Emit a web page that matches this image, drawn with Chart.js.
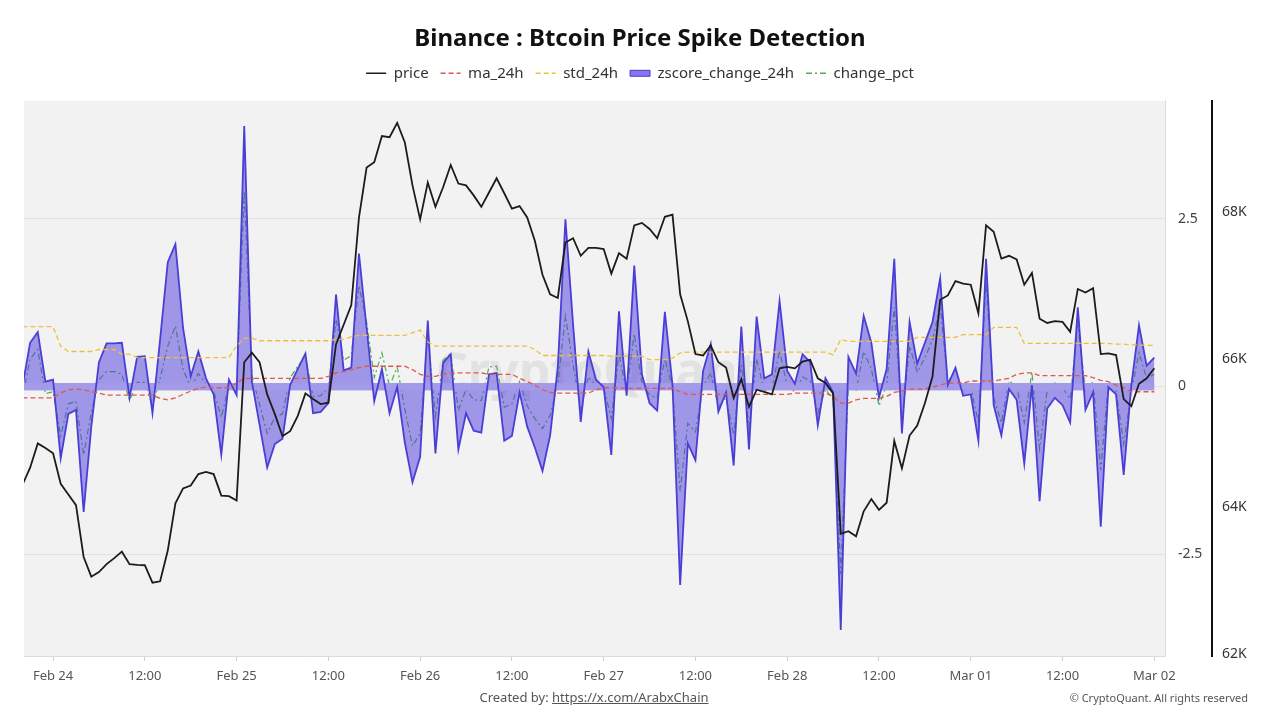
<!DOCTYPE html>
<html>
<head>
<meta charset="utf-8">
<script src="https://cdn.jsdelivr.net/npm/chart.js@4.4.1/dist/chart.umd.min.js"></script>
<style>
html,body{margin:0;padding:0;background:#fff;width:1280px;height:720px;overflow:hidden;font-family:'Noto Sans',sans-serif}
#wrap{position:relative;width:1280px;height:720px}
canvas{display:block}
#credit{position:absolute;left:0;width:1188px;top:688px;text-align:center;font-size:13px;color:#555;line-height:18px}
#credit a{color:#555;text-decoration:underline}
#rights{position:absolute;right:32px;top:690px;font-size:11px;color:#555;line-height:16px}
</style>
</head>
<body>
<div id="wrap">
<canvas id="c" width="1280" height="720"></canvas>
<div id="credit">Created by: <a>https://x.com/ArabxChain</a></div>
<div id="rights">© CryptoQuant. All rights reserved</div>
</div>
<script>
// hours relative to Feb 24 00:00
const hours = [-4,-3,-2,-1,0,1,2,3,4,5,6,7,8,9,10,11,12,13,14,15,16,17,18,19,20,21,22,23,24,25,26,27,28,29,30,31,32,33,34,35,36,37,38,39,40,41,42,43,44,45,46,47,48,49,50,51,52,53,54,55,56,57,58,59,60,61,62,63,64,65,66,67,68,69,70,71,72,73,74,75,76,77,78,79,80,81,82,83,84,85,86,87,88,89,90,91,92,93,94,95,96,97,98,99,100,101,102,103,104,105,106,107,108,109,110,111,112,113,114,115,116,117,118,119,120,121,122,123,124,125,126,127,128,129,130,131,132,133,134,135,136,137,138,139,140,141,142,143,144];

const price = [
64295,64527,64857,64794,64721,64309,64164,64018,63316,63049,
63112,63219,63301,63388,63219,63209,63204,62967,62986,63403,
64043,64246,64285,64440,64469,64440,64149,64140,64082,65957,
66088,65957,65521,65254,64954,65022,65230,65535,65458,65390,
65409,66199,66466,66732,67920,68598,68671,69024,69010,69204,
68937,68356,67895,68394,68065,68331,68632,68380,68356,68220,
68065,68259,68453,68249,68041,68075,67920,67605,67144,66878,
66829,67580,67639,67401,67508,67508,67493,67159,67435,67362,
67813,67847,67765,67639,67930,67959,66878,66515,66068,66049,
66185,65957,65884,65472,65729,65351,65584,65555,65521,65875,
65894,65875,65967,65991,65739,65676,65535,63631,63665,63597,
63936,64101,63956,64052,64890,64518,64963,65099,65400,65763,
66805,66863,67057,67023,67009,66621,67813,67726,67362,67401,
67352,67009,67169,66548,66490,66515,66505,66369,66951,66902,
66960,66068,66078,66054,65458,65361,65666,65739,65875];

const ma24 = [
-0.17,-0.17,-0.17,-0.17,-0.17,-0.10,-0.05,-0.04,-0.05,-0.08,
-0.10,-0.13,-0.13,-0.13,-0.13,-0.13,-0.13,-0.13,-0.18,-0.20,
-0.17,-0.12,-0.07,-0.03,-0.01,-0.02,-0.02,-0.02,0.05,0.12,
0.12,0.12,0.12,0.12,0.12,0.12,0.12,0.12,0.12,0.12,
0.15,0.20,0.22,0.25,0.28,0.30,0.30,0.30,0.30,0.30,
0.30,0.25,0.18,0.15,0.15,0.18,0.20,0.20,0.20,0.20,
0.20,0.18,0.18,0.18,0.18,0.12,0.07,0.02,-0.05,-0.09,
-0.10,-0.10,-0.10,-0.10,-0.10,-0.05,-0.02,-0.02,-0.02,-0.03,
-0.03,-0.03,-0.03,-0.03,-0.03,-0.03,-0.08,-0.12,-0.12,-0.12,
-0.12,-0.12,-0.12,-0.12,-0.12,-0.12,-0.12,-0.12,-0.12,-0.12,
-0.12,-0.10,-0.10,-0.10,-0.10,-0.10,-0.15,-0.25,-0.25,-0.20,
-0.18,-0.18,-0.18,-0.15,-0.09,-0.07,-0.04,-0.04,-0.04,-0.01,
0.02,0.05,0.05,0.05,0.08,0.08,0.08,0.08,0.10,0.12,
0.18,0.20,0.20,0.16,0.16,0.16,0.16,0.16,0.16,0.16,
0.13,0.09,0.07,0.02,-0.02,-0.08,-0.08,-0.08,-0.08];

const std24 = [
0.89,0.89,0.89,0.89,0.89,0.60,0.52,0.52,0.52,0.52,
0.55,0.55,0.55,0.48,0.48,0.43,0.43,0.43,0.43,0.43,
0.43,0.43,0.43,0.43,0.43,0.43,0.43,0.43,0.60,0.72,
0.72,0.68,0.68,0.68,0.68,0.68,0.68,0.68,0.68,0.68,
0.68,0.70,0.70,0.74,0.76,0.76,0.76,0.76,0.76,0.76,
0.76,0.80,0.84,0.66,0.60,0.60,0.60,0.60,0.60,0.60,
0.60,0.60,0.60,0.60,0.60,0.60,0.60,0.55,0.46,0.46,
0.46,0.46,0.46,0.46,0.46,0.46,0.46,0.45,0.45,0.45,
0.45,0.45,0.40,0.40,0.40,0.42,0.50,0.51,0.51,0.51,
0.51,0.51,0.51,0.51,0.51,0.51,0.51,0.51,0.51,0.51,
0.51,0.51,0.51,0.51,0.51,0.51,0.47,0.70,0.67,0.67,
0.67,0.67,0.67,0.67,0.67,0.67,0.67,0.73,0.73,0.73,
0.73,0.73,0.73,0.77,0.77,0.77,0.77,0.88,0.88,0.88,
0.88,0.64,0.64,0.64,0.64,0.64,0.64,0.64,0.64,0.64,
0.64,0.64,0.64,0.63,0.63,0.62,0.62,0.61,0.61];

const zscore = [
0.00,0.65,0.81,0.07,0.10,-1.07,-0.41,-0.35,-1.87,-0.60,
0.36,0.64,0.64,0.65,-0.17,0.44,0.45,-0.40,0.70,1.85,
2.12,0.87,0.15,0.52,0.12,-0.12,-1.02,0.10,-0.13,3.88,
0.07,-0.57,-1.21,-0.86,-0.78,0.02,0.26,0.49,-0.40,-0.38,
-0.25,1.37,0.24,0.28,1.98,0.87,-0.22,0.26,-0.40,-0.01,
-0.84,-1.43,-1.05,0.98,-1.00,0.35,0.48,-0.94,-0.40,-0.66,
-0.69,0.18,0.20,-0.81,-0.74,-0.09,-0.60,-0.91,-1.26,-0.73,
0.28,2.49,0.92,-0.53,0.52,0.10,-0.01,-1.02,1.12,-0.14,
1.80,0.18,-0.25,-0.36,1.11,0.02,-2.96,-0.85,-1.10,0.23,
0.63,-0.38,-0.09,-1.18,0.89,-0.94,1.04,0.12,0.18,1.27,
0.23,0.04,0.48,0.36,-0.58,0.12,-0.09,-3.63,0.44,0.19,
1.05,0.65,-0.17,0.26,1.90,-0.70,0.96,0.34,0.65,0.96,
1.61,0.02,0.28,-0.14,-0.12,-0.81,1.90,-0.28,-0.73,-0.04,
-0.20,-1.15,0.02,-1.71,-0.33,-0.17,-0.28,-0.54,1.18,-0.35,
-0.09,-2.09,-0.01,-0.12,-1.32,0.02,0.91,0.31,0.43];

const changePct = [
-0.17,0.41,0.55,-0.11,-0.08,-0.74,-0.26,-0.22,-1.02,-0.39,
0.10,0.22,0.22,0.18,-0.21,0.06,0.06,-0.30,0.12,0.60,
0.90,0.25,-0.01,0.19,0.04,-0.07,-0.46,0.02,-0.03,2.91,
0.17,-0.27,-0.70,-0.46,-0.41,0.13,0.30,0.45,-0.15,-0.14,
-0.02,1.00,0.39,0.46,1.50,0.96,0.13,0.50,0.00,0.29,
-0.34,-0.89,-0.70,0.80,-0.45,0.39,0.49,-0.36,-0.04,-0.20,
-0.21,0.29,0.30,-0.31,-0.26,0.07,-0.29,-0.48,-0.63,-0.43,
0.03,1.05,0.32,-0.34,0.14,0.00,-0.02,-0.48,0.48,-0.09,
0.78,0.05,-0.13,-0.17,0.41,-0.02,-1.56,-0.55,-0.68,0.00,
0.20,-0.31,-0.17,-0.72,0.33,-0.60,0.41,-0.06,-0.03,0.53,
0.00,-0.08,0.14,0.08,-0.40,-0.04,-0.19,-2.80,0.04,-0.07,
0.52,0.26,-0.29,0.02,1.18,-0.54,0.60,0.21,0.43,0.69,
1.20,0.06,0.25,-0.06,-0.01,-0.54,1.54,-0.17,-0.54,0.08,
0.00,-0.54,0.21,-0.93,-0.05,0.05,-0.02,-0.19,0.92,-0.06,
0.07,-1.25,0.06,-0.06,-0.86,-0.07,0.50,0.12,0.18];

const xTickHours = [0,12,24,36,48,60,72,84,96,108,120,132,144];
const xTickLabels = ['Feb 24','12:00','Feb 25','12:00','Feb 26','12:00','Feb 27','12:00','Feb 28','12:00','Mar 01','12:00','Mar 02'];
const zTicks = [-2.5, 0, 2.5];
const zTickLabels = ['-2.5', '0', '2.5'];
const priceTicks = [62000, 64000, 66000, 68000];
const priceTickLabels = ['62K', '64K', '66K', '68K'];

const Z_FILL = 'rgba(78,58,222,0.5)';
const Z_BAND = '#a39ae9';

Chart.defaults.font.family = "'Noto Sans', 'Open Sans', sans-serif";

const backdrop = {
  id: 'backdrop',
  beforeDraw(chart) {
    const {ctx, chartArea: a} = chart;
    ctx.save();
    ctx.fillStyle = '#f2f2f2';
    ctx.fillRect(a.left, a.top, a.right - a.left, a.bottom - a.top);
    ctx.restore();
  },
  beforeDatasetsDraw(chart) {
    const {ctx, chartArea: a, scales} = chart;
    ctx.save();
    ctx.font = "bold 50px 'Noto Sans', sans-serif";
    ctx.fillStyle = 'rgba(140,140,140,0.16)';
    ctx.textAlign = 'center';
    ctx.textBaseline = 'middle';
    ctx.fillText('CryptoQuant', (a.left + a.right) / 2 + 3, scales.z.getPixelForValue(0) - 12);
    ctx.restore();
  },
  beforeDatasetDraw(chart, args) {
    if (args.index !== 3) return;
    const {ctx, chartArea: a, scales} = chart;
    const x0 = Math.max(a.left, scales.x.getPixelForValue(hours[0]));
    const x1 = scales.x.getPixelForValue(hours[hours.length - 1]);
    const yTop = scales.z.getPixelForValue(0.05);
    const yBot = scales.z.getPixelForValue(-0.06);
    ctx.save();
    ctx.fillStyle = Z_BAND;
    ctx.fillRect(x0, yTop, x1 - x0, yBot - yTop);
    ctx.restore();
  }
};

const legendGap = {
  id: 'legendGap',
  beforeInit(chart) {
    const lg = chart.legend;
    const orig = lg.fit;
    lg.fit = function () { orig.call(this); this.height += 10; };
  }
};

const chart = new Chart(document.getElementById('c'), {
  type: 'line',
  data: {
    labels: hours,
    datasets: [
      { label: 'price', data: price, yAxisID: 'p', borderColor: '#1c1c1c', borderWidth: 1.8, pointRadius: 0, fill: false, legendStyle: 'line' },
      { label: 'ma_24h', data: ma24, yAxisID: 'z', borderColor: '#e0574f', borderWidth: 1.3, borderDash: [5, 3], pointRadius: 0, fill: false, legendStyle: 'line' },
      { label: 'std_24h', data: std24, yAxisID: 'z', borderColor: '#efbf3a', borderWidth: 1.3, borderDash: [5, 3], pointRadius: 0, fill: false, legendStyle: 'line' },
      { label: 'zscore_change_24h', data: zscore, yAxisID: 'z', borderColor: '#4a3ed6', backgroundColor: Z_FILL, borderWidth: 1.8, pointRadius: 0, fill: 'origin', legendStyle: 'rect' },
      { label: 'change_pct', data: changePct, yAxisID: 'z', borderColor: '#4caf50', borderWidth: 1.2, borderDash: [6, 3, 2, 3], pointRadius: 0, fill: false, legendStyle: 'line' }
    ]
  },
  options: {
    responsive: false,
    animation: false,
    devicePixelRatio: 1,
    layout: { padding: 0 },
    elements: { line: { tension: 0 } },
    plugins: {
      title: {
        display: true,
        text: 'Binance : Btcoin Price Spike Detection',
        color: '#111',
        font: { size: 24, weight: 'bold' },
        padding: { top: 25, bottom: 0 }
      },
      legend: {
        display: true,
        labels: {
          usePointStyle: true,
          pointStyleWidth: 20,
          boxHeight: 6,
          padding: 12,
          color: '#333',
          font: { size: 15 },
          generateLabels(ch) {
            const items = Chart.defaults.plugins.legend.labels.generateLabels(ch);
            items.forEach((it, i) => {
              const ds = ch.data.datasets[i];
              it.pointStyle = ds.legendStyle;
              if (ds.legendStyle === 'line') {
                it.lineWidth = 1.6;
                it.lineDash = ds.borderDash || [];
                it.strokeStyle = ds.borderColor;
              } else {
                it.fillStyle = 'rgba(110,95,228,0.85)'; it.strokeStyle = '#4a3ed6'; it.lineWidth = 1; it.lineDash = [];
              }
            });
            return items;
          }
        }
      },
      tooltip: { enabled: false }
    },
    scales: {
      x: {
        type: 'linear',
        min: -3.8,
        max: 145.4,
        afterBuildTicks(s) { s.ticks = xTickHours.map(v => ({ value: v })); },
        afterFit(s) { s.height = 64; },
        ticks: {
          autoSkip: false, maxRotation: 0, padding: 7, color: '#555', font: { size: 13 },
          callback: (v) => xTickLabels[xTickHours.indexOf(v)]
        },
        grid: { display: true, drawOnChartArea: false, drawTicks: true, tickLength: 5, color: '#cfcfcf' },
        border: { display: true, color: '#dcdcdc' }
      },
      yl: {
        type: 'linear',
        position: 'left',
        display: true,
        ticks: { display: false },
        grid: { display: false, drawTicks: false },
        border: { display: false },
        afterFit(s) { s.width = 24; }
      },
      z: {
        type: 'linear',
        position: 'right',
        weight: 1,
        min: -4.018,
        max: 4.256,
        afterBuildTicks(s) { s.ticks = zTicks.map(v => ({ value: v })); },
        afterFit(s) { s.width = 47; },
        ticks: { padding: 13, color: '#444', font: { size: 14 }, callback: (v) => zTickLabels[zTicks.indexOf(v)] },
        grid: { display: true, drawTicks: false, color: '#e2e2e2' },
        border: { display: true, color: '#dddddd' }
      },
      p: {
        type: 'linear',
        position: 'right',
        weight: 2,
        min: 61973,
        max: 69503,
        afterBuildTicks(s) { s.ticks = priceTicks.map(v => ({ value: v })); },
        afterFit(s) { s.width = 68; },
        ticks: { padding: 10, color: '#333', font: { size: 14 }, callback: (v) => priceTickLabels[priceTicks.indexOf(v)] },
        grid: { display: false, drawTicks: false },
        border: { display: true, color: '#111', width: 2 }
      }
    }
  },
  plugins: [backdrop, legendGap]
});
</script>
</body>
</html>
